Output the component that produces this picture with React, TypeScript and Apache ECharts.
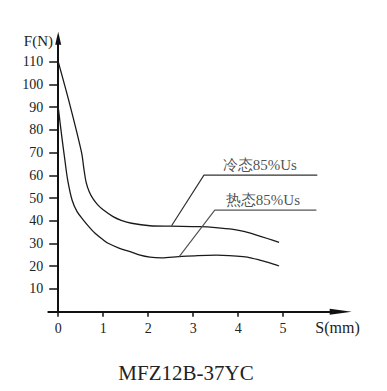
import React, { useEffect, useRef } from "react";
import * as echarts from "echarts";

const xTicks = [0, 1, 2, 3, 4, 5];
const yTicks = [10, 20, 30, 40, 50, 60, 70, 80, 90, 100, 110];

const coldCurve: [number, number][] = [
  [0, 110], [0.26, 91], [0.52, 70], [0.57, 63], [0.62, 57], [0.69, 52.8], [0.78, 49.5],
  [0.88, 47], [1.0, 44.8], [1.22, 41.8], [1.4, 40.2], [1.63, 38.9], [2.04, 37.8],
  [2.5, 37.6], [3.15, 37.4], [3.5, 37], [3.89, 36.2], [4.15, 35.2], [4.41, 33.7],
  [4.65, 32.2], [4.91, 30.5],
];

const hotCurve: [number, number][] = [
  [0, 90], [0.08, 77], [0.15, 66.5], [0.21, 58], [0.31, 49], [0.42, 44], [0.56, 40.3],
  [0.7, 37], [0.82, 34.5], [1.0, 31.6], [1.11, 30.1], [1.35, 28], [1.6, 26.4], [1.8, 25],
  [2.04, 24], [2.3, 23.7], [2.67, 24.2], [3.1, 24.7], [3.52, 24.9], [3.8, 24.7],
  [4.11, 24.2], [4.3, 23.6], [4.48, 22.7], [4.7, 21.5], [4.91, 20.1],
];

const coldLeader: [number, number][] = [[2.52, 37.8], [3.24, 60.1], [5.76, 60.1]];
const hotLeader: [number, number][] = [[2.69, 24.2], [3.48, 44.7], [5.74, 44.7]];
const coldLabel = "冷态85%Us";
const hotLabel = "热态85%Us";
const coldLabelPos: [number, number] = [4.48, 60.1];
const hotLabelPos: [number, number] = [4.55, 44.7];
const chartTitle = "MFZ12B-37YC";
const xName = "S(mm)";
const yName = "F(N)";

const FONT = '"Liberation Serif", "DejaVu Serif", serif';

export default function App() {
  const ref = useRef<HTMLDivElement>(null);
  useEffect(() => {
    const chart = echarts.init(ref.current!, null, { renderer: "svg" });
    const labelStyle = {
      show: true,
      position: "top" as const,
      distance: 3,
      fontFamily: FONT,
      fontSize: 15,
      color: "#222",
    };
    chart.setOption({
      animation: false,
      textStyle: { fontFamily: FONT },
      grid: { left: 48.3, top: 38.2, width: 292.4, height: 273.5, containLabel: false },
      xAxis: {
        type: "value",
        min: -0.22,
        max: 6.28,
        axisLine: {
          onZero: true,
          symbol: ["none", "triangle"],
          symbolSize: [6, 22],
          lineStyle: { color: "#111", width: 2 },
        },
        axisTick: { show: true, inside: false, length: 5, customValues: xTicks, lineStyle: { color: "#111", width: 1.5 } },
        axisLabel: {
          customValues: xTicks,
          margin: 10,
          fontFamily: FONT,
          fontSize: 14,
          color: "#222",
        },
        splitLine: { show: false },
      },
      yAxis: {
        type: "value",
        min: 0,
        max: 120.3,
        axisLine: {
          onZero: true,
          symbol: ["none", "triangle"],
          symbolSize: [6, 13],
          lineStyle: { color: "#111", width: 2 },
        },
        axisTick: { show: true, inside: false, length: 9, customValues: yTicks, lineStyle: { color: "#111", width: 1.5 } },
        axisLabel: {
          customValues: yTicks,
          margin: 5,
          fontFamily: FONT,
          fontSize: 14,
          color: "#222",
        },
        splitLine: { show: false },
      },
      series: [
        {
          type: "line",
          data: coldCurve,
          smooth: 0.3,
          showSymbol: false,
          lineStyle: { color: "#1a1a1a", width: 1.3 },
        },
        {
          type: "line",
          data: hotCurve,
          smooth: 0.3,
          showSymbol: false,
          lineStyle: { color: "#1a1a1a", width: 1.3 },
        },
        {
          type: "line",
          data: coldLeader,
          showSymbol: false,
          lineStyle: { color: "#333", width: 1.2 },
        },
        {
          type: "line",
          data: hotLeader,
          showSymbol: false,
          lineStyle: { color: "#555", width: 1.2 },
        },
        {
          type: "scatter",
          symbolSize: 0,
          data: [
            { value: coldLabelPos, label: { ...labelStyle, formatter: coldLabel } },
            { value: hotLabelPos, label: { ...labelStyle, formatter: hotLabel } },
          ],
        },
      ],
      graphic: [
        {
          type: "text",
          x: 53,
          y: 41,
          style: {
            text: yName,
            align: "right",
            verticalAlign: "middle",
            fontFamily: FONT,
            fontSize: 15,
            fill: "#222",
          },
        },
        {
          type: "text",
          x: 337.5,
          y: 327.5,
          style: {
            text: xName,
            align: "center",
            verticalAlign: "middle",
            fontFamily: FONT,
            fontSize: 16,
            fill: "#222",
          },
        },
        {
          type: "text",
          x: 186,
          y: 373,
          style: {
            text: chartTitle,
            align: "center",
            verticalAlign: "middle",
            fontFamily: FONT,
            fontSize: 21,
            fill: "#222",
          },
        },
      ],
    });
    return () => chart.dispose();
  }, []);
  return (
    <div
      ref={ref}
      style={{ position: "fixed", left: 0, top: 0, width: 387, height: 391, background: "#fff" }}
    />
  );
}
